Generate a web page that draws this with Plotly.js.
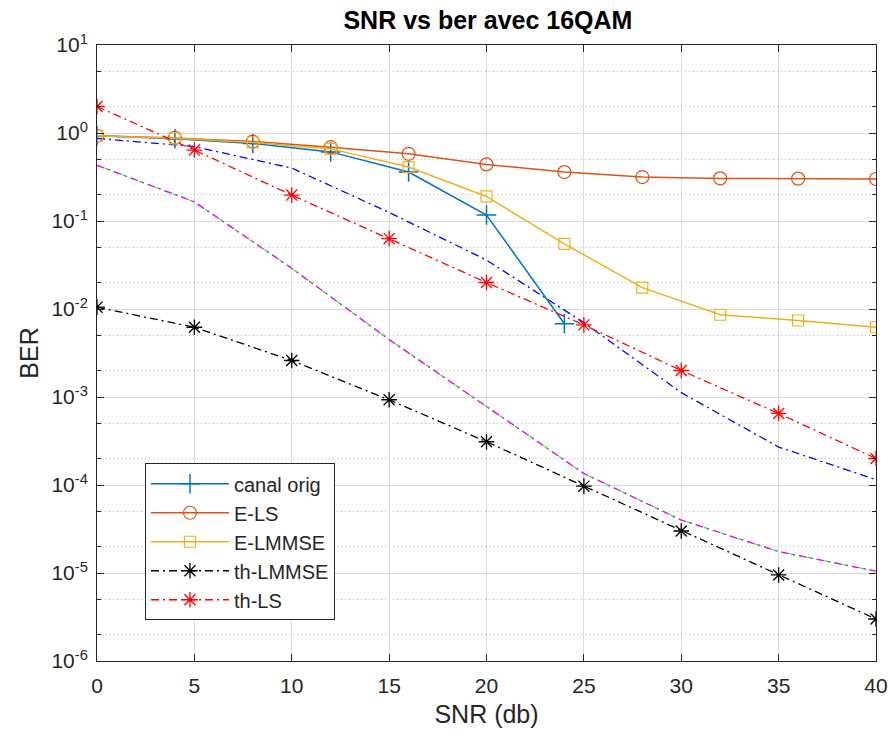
<!DOCTYPE html>
<html>
<head>
<meta charset="utf-8">
<script src="https://cdn.plot.ly/plotly-3.0.1.min.js"></script>
<style>html,body{margin:0;padding:0;background:#fff;}#chart{width:892px;height:739px;}</style>
</head>
<body>
<div id="chart"></div>
<script>
// ---- data ----
const snrE = [0, 4, 8, 12, 16, 20, 24, 28, 32, 36, 40];
const snrCanal = [0, 4, 8, 12, 16, 20, 24];
const snrTh = [0, 5, 10, 15, 20, 25, 30, 35, 40];

const berCanal = [0.93, 0.86, 0.76, 0.61, 0.36, 0.117, 0.0068];
const berELS = [0.93, 0.88, 0.80, 0.69, 0.58, 0.44, 0.36, 0.316, 0.305, 0.303, 0.30];
const berELMMSE = [0.93, 0.87, 0.78, 0.66, 0.41, 0.19, 0.055, 0.0175, 0.0086, 0.0074, 0.0062];
const berThLMMSE = [0.0105, 0.0062, 0.0026, 0.00093, 0.00031, 0.000097, 0.000030, 0.0000095, 0.0000030];
const berThLS = [2.0, 0.64, 0.197, 0.063, 0.020, 0.0066, 0.0020, 0.00065, 0.00020];
const berBlueDD = [0.87, 0.70, 0.40, 0.125, 0.036, 0.0070, 0.00112, 0.00027, 0.000115];
const berMagenta = [0.43, 0.165, 0.029, 0.0045, 0.00078, 0.000135, 0.000040, 0.0000175, 0.0000105];
const berGreen = [0.43, 0.165, 0.029, 0.0045, 0.00078, 0.000135, 0.000040, 0.0000175, 0.0000105];

const legendNames = ['canal orig', 'E-LS', 'E-LMMSE', 'th-LMMSE', 'th-LS'];
const yTickVals = [1e1, 1e0, 1e-1, 1e-2, 1e-3, 1e-4, 1e-5, 1e-6];
const yTickText = ['10<sup>1</sup>', '10<sup>0</sup>', '10<sup>-1</sup>', '10<sup>-2</sup>', '10<sup>-3</sup>', '10<sup>-4</sup>', '10<sup>-5</sup>', '10<sup>-6</sup>'];
const xTickVals = [0, 5, 10, 15, 20, 25, 30, 35, 40];

const DD = '8px,4px,2px,4px';
const traces = [
  {x: snrTh, y: berGreen, mode: 'lines', line: {color: '#00FF00', width: 1.3, dash: '5px,4px'}, showlegend: false, hoverinfo: 'skip'},
  {x: snrTh, y: berMagenta, mode: 'lines', line: {color: '#FF00FF', width: 1.3, dash: DD}, showlegend: false},
  {x: snrTh, y: berBlueDD, mode: 'lines', line: {color: '#0000FF', width: 1.3, dash: DD}, showlegend: false},
  {x: snrCanal, y: berCanal, name: legendNames[0], mode: 'lines+markers', line: {color: '#0072BD', width: 1.5},
   marker: {symbol: 'cross-thin-open', size: 14, color: '#0072BD', line: {width: 1.5, color: '#0072BD'}}},
  {x: snrE, y: berELS, name: legendNames[1], mode: 'lines+markers', line: {color: '#D95319', width: 1.5},
   marker: {symbol: 'circle-open', size: 13, color: '#D95319', line: {width: 1.2, color: '#D95319'}}},
  {x: snrE, y: berELMMSE, name: legendNames[2], mode: 'lines+markers', line: {color: '#EDB120', width: 1.5},
   marker: {symbol: 'square-open', size: 11, color: '#EDB120', line: {width: 1.2, color: '#EDB120'}}},
  {x: snrTh, y: berThLMMSE, name: legendNames[3], mode: 'lines+markers', line: {color: '#000000', width: 1.3, dash: DD},
   marker: {symbol: 'asterisk-open', size: 13, color: '#000000', line: {width: 1.3, color: '#000000'}}},
  {x: snrTh, y: berThLS, name: legendNames[4], mode: 'lines+markers', line: {color: '#FF0000', width: 1.3, dash: DD},
   marker: {symbol: 'asterisk-open', size: 13, color: '#FF0000', line: {width: 1.3, color: '#FF0000'}}}
];

const fontFam = '"Liberation Sans", Arial, Helvetica, sans-serif';
const layout = {
  width: 892, height: 739,
  paper_bgcolor: '#ffffff', plot_bgcolor: '#ffffff',
  margin: {l: 97, r: 16, t: 45, b: 78},
  font: {family: fontFam, color: '#262626', size: 20},
  title: {text: '<b>SNR vs ber avec 16QAM</b>', x: 0.547, xanchor: 'center', y: 0.973, yanchor: 'middle', yref: 'container',
          font: {family: fontFam, size: 25, color: '#000000'}},
  xaxis: {
    range: [0, 40], tickvals: xTickVals, ticktext: xTickVals.map(String),
    ticks: 'inside', ticklen: 7, tickcolor: '#262626', tickwidth: 1,
    showline: true, linecolor: '#262626', linewidth: 1, mirror: 'ticks',
    showgrid: true, gridcolor: '#dadada', gridwidth: 1, zeroline: false,
    tickfont: {size: 21, color: '#262626'}, ticklabelstandoff: 6,
    title: {text: 'SNR (db)', font: {size: 25, color: '#262626'}, standoff: 9}
  },
  yaxis: {
    type: 'log', range: [-6, 1], tickvals: yTickVals, ticktext: yTickText,
    ticks: 'inside', ticklen: 7, tickcolor: '#262626', tickwidth: 1,
    showline: true, linecolor: '#262626', linewidth: 1, mirror: 'ticks',
    showgrid: true, gridcolor: '#dadada', gridwidth: 1, zeroline: false,
    minor: {dtick: 'D2', showgrid: true, gridcolor: '#bdbdbd', griddash: '1px,3px', gridwidth: 1, ticks: 'inside', ticklen: 4, tickcolor: '#262626'},
    tickfont: {size: 21, color: '#262626'}, ticklabelstandoff: 4,
    title: {text: 'BER', font: {size: 25, color: '#262626'}, standoff: 5}
  },
  legend: {
    x: 0.0616, y: 0.321, xanchor: 'left', yanchor: 'top',
    bgcolor: '#ffffff', bordercolor: '#262626', borderwidth: 1,
    font: {size: 20, color: '#262626'}, tracegroupgap: 0, itemwidth: 78
  },
  showlegend: true
};

Plotly.newPlot('chart', traces, layout, {displayModeBar: false, staticPlot: true});
</script>
</body>
</html>
